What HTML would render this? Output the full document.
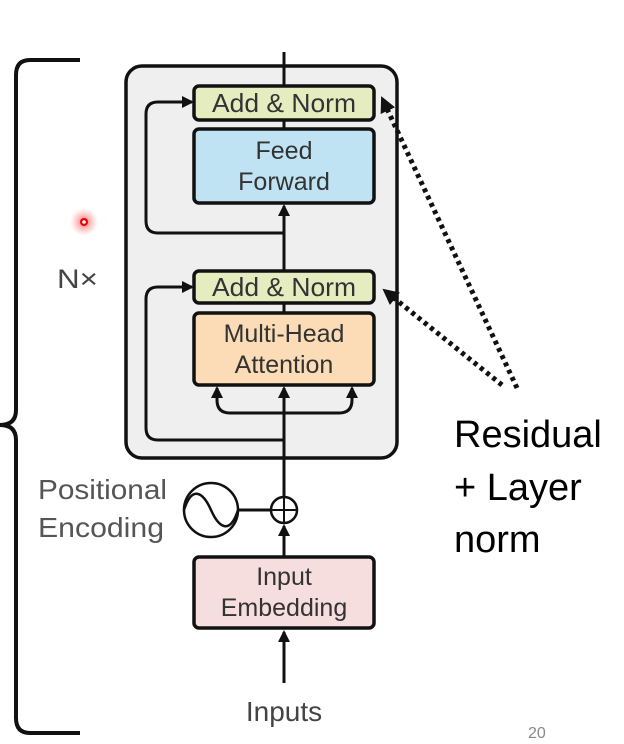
<!DOCTYPE html>
<html><head><style>
body{margin:0;background:#fff;}
svg{display:block;}
text{font-family:"Liberation Sans",sans-serif;}
</style></head><body>
<svg width="624" height="744" viewBox="0 0 624 744">
<defs>
<marker id="a" markerWidth="12" markerHeight="12" refX="10" refY="6" orient="auto" markerUnits="userSpaceOnUse">
<path d="M0,0 L12,6 L0,12 Z" fill="#111"/></marker>
<marker id="b" markerWidth="16" markerHeight="16" refX="14" refY="8" orient="auto" markerUnits="userSpaceOnUse">
<path d="M0,0 L16,8 L0,16 Z" fill="#111"/></marker>
<radialGradient id="r"><stop offset="0" stop-color="#f44" stop-opacity=".8"/><stop offset="1" stop-color="#f88" stop-opacity="0"/></radialGradient>
</defs>
<path d="M80,60 L30,60 Q16,60 16,75 L16,410 Q16,425 0,425 Q16,425 16,440 L16,718 Q16,733 30,733 L80,733" fill="none" stroke="#111" stroke-width="4"/>
<circle cx="84" cy="222" r="14" fill="url(#r)"/>
<circle cx="84" cy="222" r="4" fill="#e00"/>
<circle cx="84" cy="222" r="1.8" fill="#fff"/>
<text x="57" y="288" font-size="27" fill="#444" textLength="41" lengthAdjust="spacingAndGlyphs">N×</text>
<rect x="126" y="66" width="271" height="392" rx="16" fill="#efefef" stroke="#111" stroke-width="3.5"/>
<line x1="284" y1="52" x2="284" y2="86" stroke="#111" stroke-width="3"/>
<line x1="284" y1="120" x2="284" y2="128" stroke="#111" stroke-width="3"/>
<line x1="284" y1="270" x2="284" y2="206" stroke="#111" stroke-width="3" marker-end="url(#a)"/>
<line x1="284" y1="303" x2="284" y2="312" stroke="#111" stroke-width="3"/>
<line x1="284" y1="498" x2="284" y2="388" stroke="#111" stroke-width="3" marker-end="url(#a)"/>
<path d="M284,233 L158,233 Q146,233 146,221 L146,114 Q146,102 158,102 L192,102" fill="none" stroke="#111" stroke-width="3" marker-end="url(#a)"/>
<path d="M284,440 L158,440 Q146,440 146,428 L146,299 Q146,287 158,287 L192,287" fill="none" stroke="#111" stroke-width="3" marker-end="url(#a)"/>
<path d="M284,413 L230,413 Q217,413 217,400 L217,388" fill="none" stroke="#111" stroke-width="3" marker-end="url(#a)"/>
<path d="M284,413 L339,413 Q352,413 352,400 L352,388" fill="none" stroke="#111" stroke-width="3" marker-end="url(#a)"/>
<rect x="194" y="86" width="180" height="34" rx="5" fill="#e5edc0" stroke="#111" stroke-width="3.5"/>
<text x="284" y="112" font-size="26" text-anchor="middle" fill="#333" textLength="144" lengthAdjust="spacingAndGlyphs">Add &amp; Norm</text>
<rect x="194" y="129" width="180" height="74" rx="5" fill="#bfe3f3" stroke="#111" stroke-width="3.5"/>
<text x="284" y="159" font-size="25" text-anchor="middle" fill="#333">Feed</text>
<text x="284" y="190" font-size="25" text-anchor="middle" fill="#333">Forward</text>
<rect x="194" y="271" width="180" height="32" rx="5" fill="#e5edc0" stroke="#111" stroke-width="3.5"/>
<text x="284" y="296" font-size="26" text-anchor="middle" fill="#333" textLength="144" lengthAdjust="spacingAndGlyphs">Add &amp; Norm</text>
<rect x="194" y="313" width="180" height="72" rx="5" fill="#fbdcb6" stroke="#111" stroke-width="3.5"/>
<text x="284" y="342" font-size="25" text-anchor="middle" fill="#333">Multi-Head</text>
<text x="284" y="373" font-size="25" text-anchor="middle" fill="#333">Attention</text>
<text x="38" y="499" font-size="28" fill="#555" textLength="129" lengthAdjust="spacingAndGlyphs">Positional</text>
<text x="38" y="537" font-size="28" fill="#555" textLength="126" lengthAdjust="spacingAndGlyphs">Encoding</text>
<circle cx="211" cy="510" r="27" fill="#fff" stroke="#111" stroke-width="2.5"/>
<path d="M184,510 C192,485 203,492 211,510 C219,528 230,535 238,510" fill="none" stroke="#111" stroke-width="2.5"/>
<line x1="238" y1="510" x2="271" y2="510" stroke="#111" stroke-width="3"/>
<circle cx="284" cy="510" r="13" fill="#fff" stroke="#111" stroke-width="2.5"/>
<line x1="271" y1="510" x2="297" y2="510" stroke="#111" stroke-width="2"/>
<line x1="284" y1="497" x2="284" y2="523" stroke="#111" stroke-width="2"/>
<line x1="284" y1="556" x2="284" y2="526" stroke="#111" stroke-width="3" marker-end="url(#a)"/>
<rect x="194" y="557" width="180" height="71" rx="5" fill="#f7dede" stroke="#111" stroke-width="3.5"/>
<text x="284" y="585" font-size="25" text-anchor="middle" fill="#333">Input</text>
<text x="284" y="616" font-size="25" text-anchor="middle" fill="#333">Embedding</text>
<line x1="284" y1="683" x2="284" y2="632" stroke="#111" stroke-width="3" marker-end="url(#a)"/>
<text x="284" y="721" font-size="28" text-anchor="middle" fill="#444">Inputs</text>
<line x1="517" y1="388" x2="382" y2="98" stroke="#111" stroke-width="5" stroke-dasharray="4,4" marker-end="url(#b)"/>
<line x1="502" y1="385" x2="384" y2="290" stroke="#111" stroke-width="5" stroke-dasharray="4,4" marker-end="url(#b)"/>
<text x="454" y="447" font-size="38" fill="#000">Residual</text>
<text x="454" y="500" font-size="38" fill="#000">+ Layer</text>
<text x="454" y="552" font-size="38" fill="#000">norm</text>
<text x="528" y="738" font-size="16" fill="#888">20</text>
</svg>
</body></html>
